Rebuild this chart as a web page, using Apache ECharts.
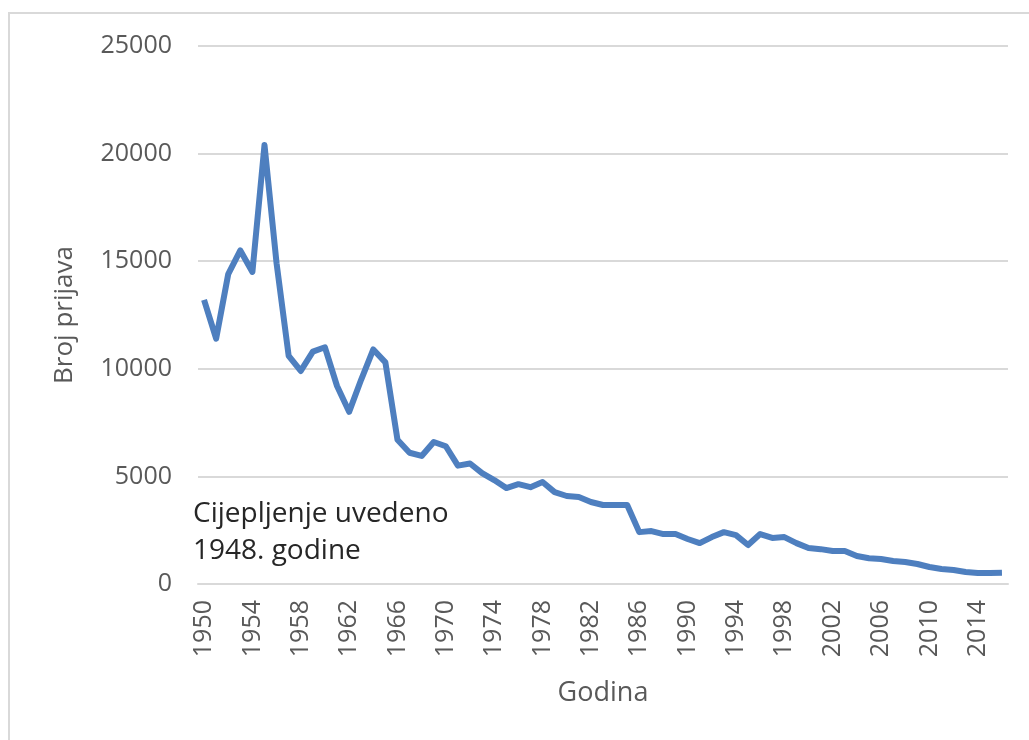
<!DOCTYPE html>
<html>
<head>
<meta charset="utf-8">
<script src="https://cdn.jsdelivr.net/npm/echarts@6/dist/echarts.min.js"></script>
<style>
  html, body { margin: 0; padding: 0; background: #fff; }
  #chart { width: 1029px; height: 740px; }
</style>
</head>
<body>
<div id="chart"></div>
<script>
// godine 1950 - 2016
const years = [];
for (let y = 1950; y <= 2016; y++) years.push(String(y));

// broj prijava po godini (očitano sa slike)
const prijave = [
  13200, 11400, 14400, 15500, 14500, 20400, 14900, 10600, 9900, 10800,
  11000, 9200, 8000, 9500, 10900, 10300, 6700, 6100, 5950, 6600,
  6400, 5500, 5600, 5150, 4830, 4460, 4640, 4500, 4740, 4270,
  4090, 4040, 3810, 3670, 3670, 3670, 2410, 2460, 2320, 2320,
  2090, 1900, 2180, 2410, 2270, 1810, 2320, 2140, 2180, 1900,
  1670, 1620, 1530, 1530, 1300, 1200, 1160, 1070, 1020, 930,
  790, 700, 650, 560, 510, 510, 520
];

const yTicks = [0, 5000, 10000, 15000, 20000, 25000];

const font = "Open Sans";
const grey = "#595959";

let myChart = echarts.init(document.getElementById("chart"));
myChart.setOption({
  animation: false,
  textStyle: { fontFamily: font },
  grid: {
    left: 198,
    right: 21,
    top: 46,
    bottom: 156,
  },
  xAxis: {
    type: "category",
    data: years,
    boundaryGap: true,
    name: "Godina",
    nameLocation: "middle",
    nameGap: 96,
    nameTextStyle: { color: grey, fontSize: 27, fontFamily: font },
    axisLine: { lineStyle: { color: "#d9d9d9", width: 2 } },
    axisTick: { show: false },
    axisLabel: {
      interval: 3,
      rotate: 90,
      color: grey,
      fontSize: 25,
      margin: 16,
      fontFamily: font,
    },
  },
  yAxis: {
    type: "value",
    min: yTicks[0],
    max: yTicks[yTicks.length - 1],
    interval: 5000,
    name: "Broj prijava",
    nameLocation: "middle",
    nameGap: 120,
    nameTextStyle: { color: grey, fontSize: 26, fontFamily: font },
    axisLine: { show: false },
    axisTick: { show: false },
    axisLabel: {
      color: grey,
      fontSize: 25,
      margin: 26,
      fontFamily: font,
      formatter: (v) => String(v),
    },
    splitLine: { lineStyle: { color: "#d9d9d9", width: 2 } },
  },
  series: [
    {
      type: "line",
      data: prijave,
      symbol: "none",
      lineStyle: { color: "#4e7fbf", width: 6, join: "round" },
    },
  ],
  graphic: [
    {
      type: "rect",
      shape: { x: 9, y: 13, width: 1040, height: 760 },
      style: { fill: "none", stroke: "#d9d9d9", lineWidth: 2 },
      silent: true,
    },
    {
      type: "text",
      left: 193,
      top: 496,
      style: {
        text: "Cijepljenje uvedeno\n1948. godine",
        fill: "#262626",
        font: "28px 'Open Sans'",
        lineHeight: 37,
      },
    },
  ],
});
</script>
</body>
</html>
